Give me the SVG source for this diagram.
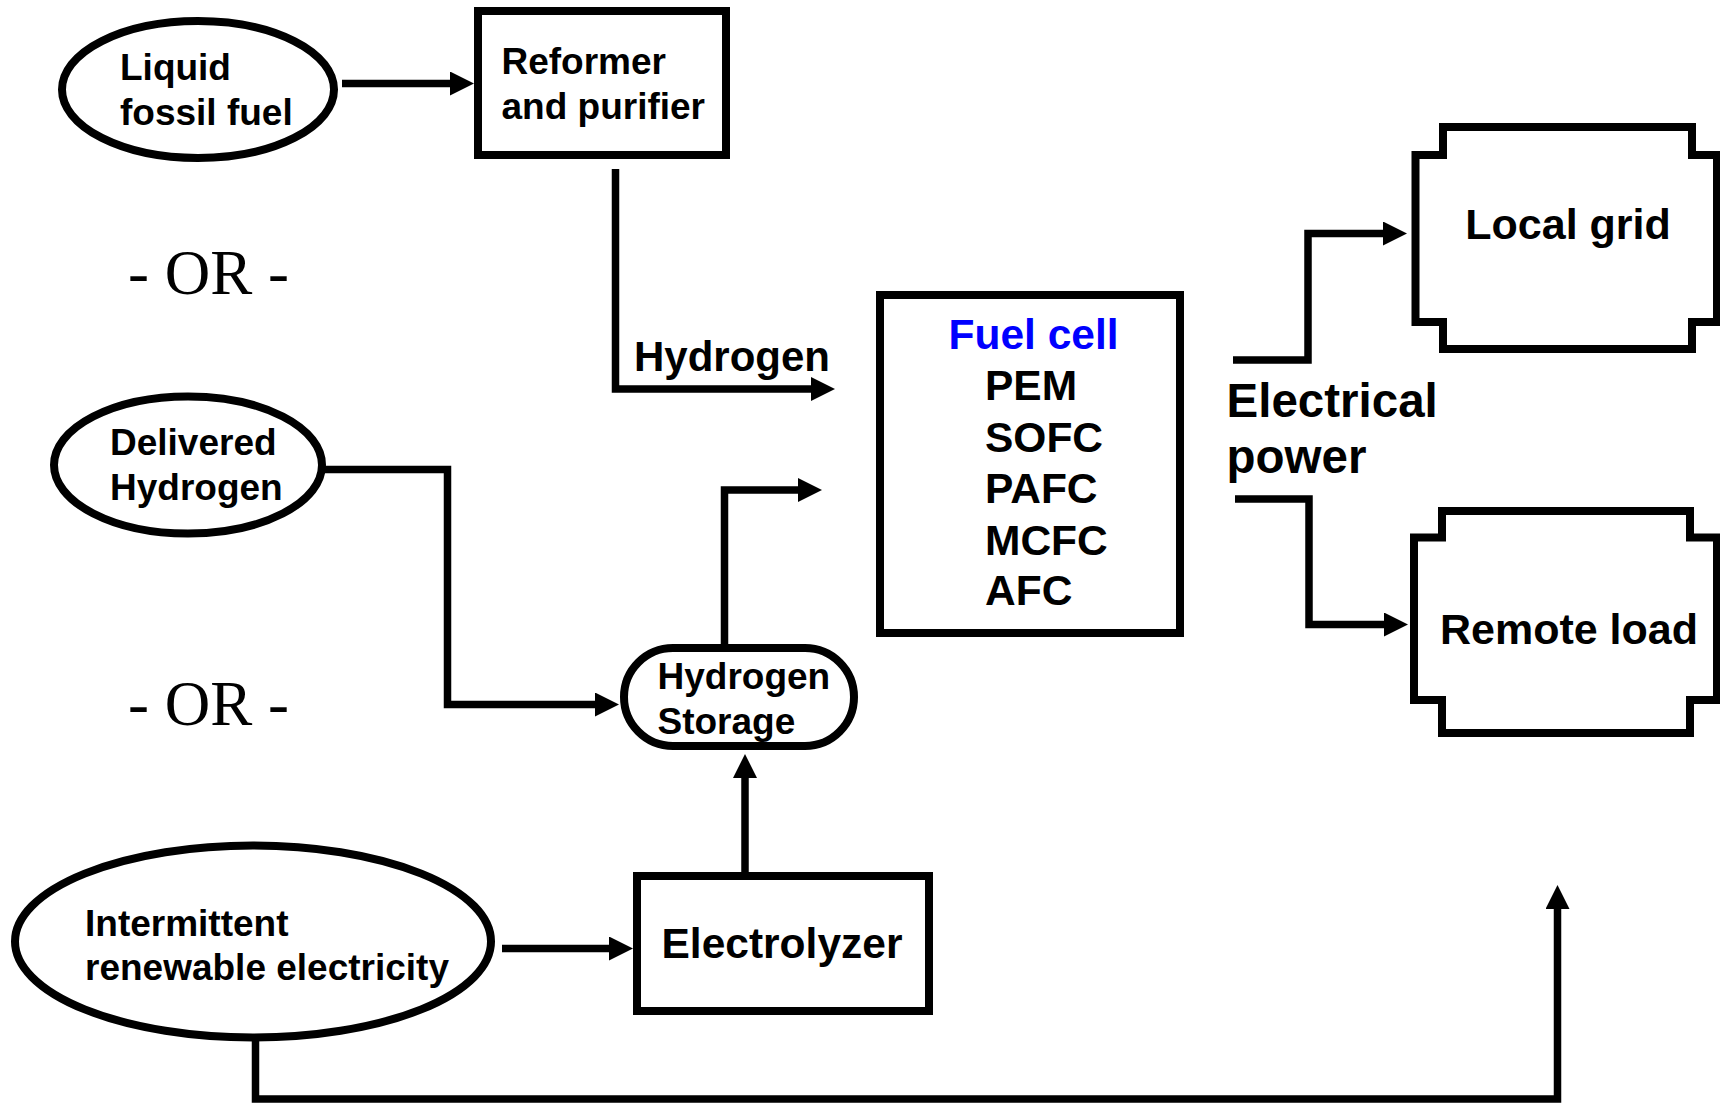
<svg xmlns="http://www.w3.org/2000/svg" width="1720" height="1103" viewBox="0 0 1720 1103">
<style>
.n{fill:#fff;stroke:#000;stroke-width:8}
.c{fill:none;stroke:#000;stroke-width:7.5;stroke-linejoin:miter}
.t{font-family:"Liberation Sans",Arial,sans-serif;font-weight:bold;font-size:37px;fill:#000}
.t42{font-size:42.5px}
.or{font-family:"Liberation Serif","Times New Roman",serif;font-size:63px;fill:#000}
</style>
<defs>
<marker id="ah" viewBox="0 0 24 24" markerUnits="userSpaceOnUse" markerWidth="24" markerHeight="24" refX="1" refY="12" orient="auto">
<path d="M0,0 L24,12 L0,24 Z" fill="#000"/>
</marker>
</defs>
<rect width="1720" height="1103" fill="#fff"/>

<g id="connectors">
<path class="c" d="M342,83.5 H451" marker-end="url(#ah)"/>
<path class="c" d="M615.5,169 V389 H812" marker-end="url(#ah)"/>
<path class="c" d="M324,469.5 H447.5 V704.5 H596" marker-end="url(#ah)"/>
<path class="c" d="M724.5,646 V490 H799" marker-end="url(#ah)"/>
<path class="c" d="M745,872 V777" marker-end="url(#ah)"/>
<path class="c" d="M502,948.5 H610" marker-end="url(#ah)"/>
<path class="c" d="M255.5,1038 V1099 H1557.5 V908" marker-end="url(#ah)"/>
<path class="c" d="M1233,360 H1308 V233.5 H1384" marker-end="url(#ah)"/>
<path class="c" d="M1235,499 H1309 V624.5 H1385" marker-end="url(#ah)"/>
</g>

<g id="liquid-fossil-fuel">
<ellipse class="n" cx="198" cy="89.5" rx="136" ry="68.5"/>
<text class="t" x="120" y="80">Liquid</text>
<text class="t" x="120" y="125">fossil fuel</text>
</g>

<g id="reformer">
<rect class="n" x="478" y="11" width="248" height="144"/>
<text class="t" x="501.5" y="73.5">Reformer</text>
<text class="t" x="501.5" y="118.5">and purifier</text>
</g>

<g id="or-1"><text class="or" x="128" y="294">- OR -</text></g>
<g id="or-2"><text class="or" x="128" y="725">- OR -</text></g>

<g id="hydrogen-label"><text class="t" x="634" y="371" style="font-size:42px">Hydrogen</text></g>

<g id="fuel-cell">
<rect class="n" x="880" y="295" width="300" height="338"/>
<text class="t t42" x="1033.5" y="349" text-anchor="middle" style="fill:#0000FF">Fuel cell</text>
<text class="t t42" x="985" y="400">PEM</text>
<text class="t t42" x="985" y="452">SOFC</text>
<text class="t t42" x="985" y="503">PAFC</text>
<text class="t t42" x="985" y="555">MCFC</text>
<text class="t t42" x="985" y="605">AFC</text>
</g>

<g id="electrical-power">
<text class="t" x="1226.5" y="417" style="font-size:47.5px">Electrical</text>
<text class="t" x="1226.5" y="473" style="font-size:47.5px">power</text>
</g>

<g id="local-grid">
<path class="n" d="M1443,127 H1692 V155 H1717 V322 H1692 V349 H1443 V322 H1415.5 V155 H1443 Z"/>
<text class="t" x="1568" y="238.5" text-anchor="middle" style="font-size:43px">Local grid</text>
</g>

<g id="remote-load">
<path class="n" d="M1442,511 H1690 V537.5 H1717 V700 H1690 V733 H1442 V700 H1414 V537.5 H1442 Z"/>
<text class="t" x="1569" y="644" text-anchor="middle" style="font-size:43px">Remote load</text>
</g>

<g id="delivered-hydrogen">
<ellipse class="n" cx="188" cy="465" rx="134" ry="68.5"/>
<text class="t" x="110" y="455">Delivered</text>
<text class="t" x="110" y="500">Hydrogen</text>
</g>

<g id="hydrogen-storage">
<rect class="n" x="624" y="648" width="230" height="98" rx="49" ry="49"/>
<text class="t" x="657.5" y="688.5">Hydrogen</text>
<text class="t" x="657.5" y="733.5">Storage</text>
</g>

<g id="electrolyzer">
<rect class="n" x="637" y="876" width="292" height="135"/>
<text class="t t42" x="661.5" y="958">Electrolyzer</text>
</g>

<g id="intermittent-renewable">
<ellipse class="n" cx="253" cy="941.5" rx="238" ry="96"/>
<text class="t" x="85" y="936">Intermittent</text>
<text class="t" x="85" y="979.5">renewable electricity</text>
</g>
</svg>
